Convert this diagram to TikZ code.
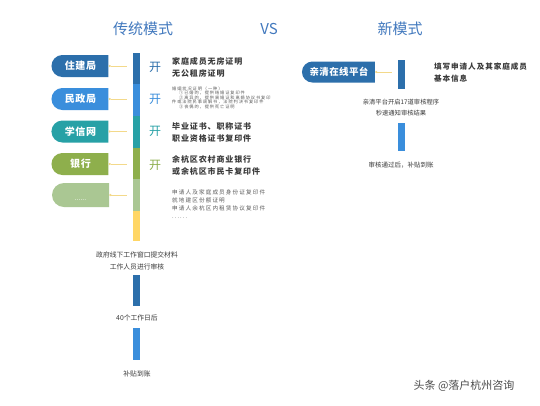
\documentclass[tikz,border=0pt]{standalone}
\usepackage{fontspec}
\setmainfont{Noto Sans CJK SC}
\usetikzlibrary{shapes.misc,arrows.meta}
\definecolor{cA}{HTML}{2C6FAB}
\definecolor{cB}{HTML}{3A8EDC}
\definecolor{cC}{HTML}{27A1A6}
\definecolor{cD}{HTML}{8EAF4C}
\definecolor{cE}{HTML}{AAC793}
\definecolor{cF}{HTML}{FFD665}
\definecolor{linkc}{HTML}{F3D98A}
\definecolor{titlec}{HTML}{4279BE}
\definecolor{txt}{HTML}{3A3A3A}
\definecolor{smalltxt}{HTML}{5A5A5A}
\begin{document}
\begin{tikzpicture}[x=1pt,y=-1pt,
  pill/.style={rounded rectangle, rounded rectangle right arc=none,
    minimum width=57pt, minimum height=22pt, inner sep=0pt, text=white,
    font=\fontsize{10}{12}\selectfont\bfseries\addfontfeature{LetterSpace=6}},
  link/.style={draw=linkc, line width=0.6pt, {Circle[length=2.2pt]}-, shorten >=6pt},
  bar/.style={rectangle, minimum width=7pt, inner sep=0pt, outer sep=0pt},
  kai/.style={font=\fontsize{12}{12}\selectfont},
  big/.style={anchor=west, align=left, text=txt, inner sep=0pt,
    font=\fontsize{8}{12}\selectfont\bfseries\addfontfeature{LetterSpace=11}},
  tiny/.style={anchor=west, align=left, text=smalltxt, inner sep=0pt,
    font=\fontsize{4.2}{4.5}\selectfont\addfontfeature{LetterSpace=22}},
  small/.style={anchor=west, align=left, text=smalltxt, inner sep=0pt,
    font=\fontsize{5.6}{8}\selectfont\addfontfeature{LetterSpace=20}},
  flow/.style={align=center, text=txt, inner sep=0pt,
    font=\fontsize{6.8}{12.5}\selectfont},
  title/.style={text=titlec, font=\fontsize{15}{15}\selectfont}
]
\useasboundingbox[fill=white] (0,0) rectangle (540,405);

% titles
\node[title] (t1) at (143,29) {传统模式};
\node[title] (t2) at (269,29) {VS};
\node[title] (t3) at (400,29) {新模式};

% left pills
\node[pill, fill=cA] (p1) at (80.5,66) {住建局};
\node[pill, fill=cB] (p2) at (80.5,99) {民政局};
\node[pill, fill=cC] (p3) at (80.5,131.5) {学信网};
\node[pill, fill=cD] (p4) at (80.5,164) {银行};
\node[pill, fill=cE, minimum height=24pt] (p5) at (80.5,195) {};
\node[text=white, inner sep=0pt, font=\fontsize{7}{7}\selectfont] (p5t) at (80.5,200) {......};

% left bar
\node[bar, fill=cA, minimum height=31pt] (b1) at (136.5,68.5) {};
\node[bar, fill=cB, minimum height=32pt] (b2) at (136.5,100) {};
\node[bar, fill=cC, minimum height=32pt] (b3) at (136.5,132) {};
\node[bar, fill=cD, minimum height=31pt] (b4) at (136.5,163.5) {};
\node[bar, fill=cE, minimum height=32pt] (b5) at (136.5,195) {};
\node[bar, fill=cF, minimum height=30pt] (b6) at (136.5,226) {};

% connectors
\draw[link] (p1.east) -- (p1.east -| b1.west);
\draw[link] (p2.east) -- (p2.east -| b2.west);
\draw[link] (p3.east) -- (p3.east -| b3.west);
\draw[link] (p4.east) -- (p4.east -| b4.west);
\draw[link] (p5.east) -- (p5.east -| b5.west);

% kai
\node[kai, text=cA] (k1) at (155,67) {开};
\node[kai, text=cB] (k2) at (155,99) {开};
\node[kai, text=cC] (k3) at (155,131) {开};
\node[kai, text=cD] (k4) at (155,165) {开};

% texts
\node[big] (x1) at (172,67) {家庭成员无房证明\\无公租房证明};
\node[tiny] (x2) at (172,97.5) {婚姻状况证明（一种）\\
\hspace*{7pt}①已婚的，提供结婚证复印件\\
\hspace*{7pt}②离异的，提供离婚证和离婚协议书复印\\
件或法院民事调解书，法院判决书复印件\\
\hspace*{7pt}③丧偶的，提供死亡证明};
\node[big] (x3) at (172,132.5) {毕业证书、职称证书\\职业资格证书复印件};
\node[big] (x4) at (172,165) {余杭区农村商业银行\\或余杭区市民卡复印件};
\node[small] (x5) at (172,204) {申请人及家庭成员身份证复印件\\就地建区份额证明\\申请人余杭区内租赁协议复印件\\......};

% left flow
\node[flow] (f1) at (137,261) {政府线下工作窗口提交材料\\工作人员进行审核};
\node[bar, fill=cA, minimum height=31pt] (lb1) at (136.5,290.5) {};
\node[flow] (f2) at (137,318) {40个工作日后};
\node[bar, fill=cB, minimum height=32pt] (lb2) at (136.5,344) {};
\node[flow] (f3) at (137,374) {补贴到账};

% right side
\node[pill, fill=cA, minimum width=73pt, minimum height=21pt,
  font=\fontsize{9.5}{12}\selectfont\bfseries\addfontfeature{LetterSpace=4}] (q1) at (339,72) {亲清在线平台};
\node[bar, fill=cA, minimum height=29pt] (rb1) at (401,74.5) {};
\draw[link] (q1.east) -- (q1.east -| rb1.west);
\node[big, font=\fontsize{7.6}{12}\selectfont\bfseries\addfontfeature{LetterSpace=12}] (y1) at (434,73) {填写申请人及其家庭成员\\基本信息};
\node[flow, font=\fontsize{6.3}{11.5}\selectfont] (y2) at (401,107.5) {亲清平台开启17道审核程序\\秒速通知审核结果};
\node[bar, fill=cB, minimum height=28pt] (rb2) at (401,136.5) {};
\node[flow, font=\fontsize{6.5}{8}\selectfont] (y3) at (401,165) {审核通过后，补贴到账};

% watermark
\node[text=black!70, font=\fontsize{11}{11}\selectfont, inner sep=0pt] (wm) at (464,386) {头条 @落户杭州咨询};
\end{tikzpicture}
\end{document}
